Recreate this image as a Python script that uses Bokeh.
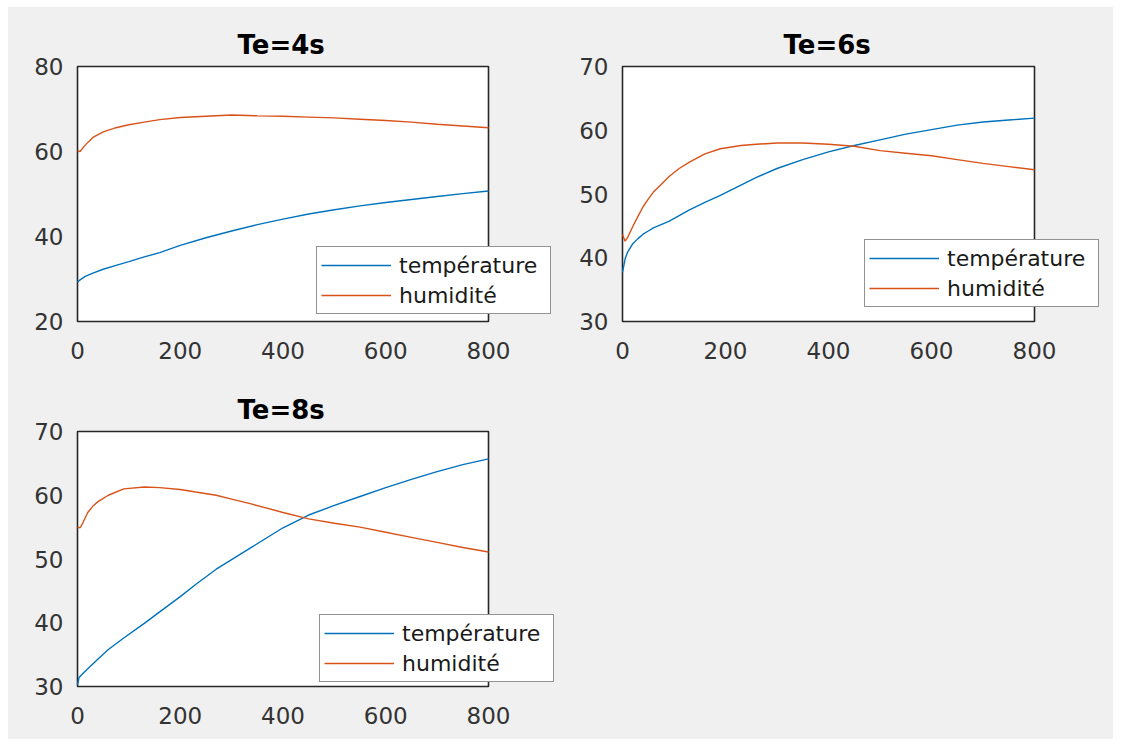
from bokeh.plotting import figure
from bokeh.models import Range1d, FixedTicker, Legend, LegendItem, Spacer
from bokeh.layouts import row, column
from bokeh.embed import file_html
from bokeh.resources import INLINE

BG = "#f0f0f0"
BLUE = "#0072BD"
ORANGE = "#D95319"
FONT = "DejaVu Sans"

# ---- data ----
titles = ["Te=4s", "Te=6s", "Te=8s"]
legend_labels = ["température", "humidité"]
x_lim = (0, 800)
x_ticks = [0, 200, 400, 600, 800]
y_lim_4 = (20, 80)
y_lim_6 = (30, 70)
y_lim_8 = (30, 70)
y_ticks_4 = [20, 40, 60, 80]
y_ticks_6 = [30, 40, 50, 60, 70]
y_ticks_8 = [30, 40, 50, 60, 70]

t4 = [0, 5, 15, 30, 50, 75, 100, 130, 160, 200, 250, 300, 350, 400, 450, 500, 550, 600, 650, 700, 750, 800]
temp4 = [29.3, 29.8, 30.6, 31.4, 32.3, 33.2, 34.1, 35.2, 36.2, 37.9, 39.7, 41.3, 42.8, 44.1, 45.3, 46.3, 47.2, 48.0, 48.7, 49.4, 50.1, 50.7]
hum4 = [60.2, 60.0, 61.5, 63.3, 64.6, 65.6, 66.3, 66.9, 67.5, 68.0, 68.3, 68.6, 68.4, 68.3, 68.1, 67.9, 67.6, 67.3, 66.9, 66.4, 66.0, 65.6]

t6 = [0, 5, 10, 20, 30, 40, 50, 60, 75, 90, 110, 130, 160, 190, 230, 260, 300, 350, 400, 450, 500, 550, 600, 650, 700, 750, 800]
temp6 = [37.7, 39.8, 40.9, 42.2, 43.0, 43.7, 44.2, 44.7, 45.2, 45.7, 46.6, 47.5, 48.7, 49.8, 51.4, 52.6, 54.0, 55.4, 56.6, 57.6, 58.5, 59.4, 60.1, 60.8, 61.3, 61.6, 61.9]
hum6 = [43.7, 42.6, 43.2, 44.9, 46.5, 48.0, 49.2, 50.3, 51.5, 52.7, 54.0, 55.0, 56.3, 57.1, 57.6, 57.8, 58.0, 58.0, 57.8, 57.5, 56.8, 56.4, 56.0, 55.4, 54.8, 54.3, 53.8]

t8_temp = [0, 3, 10, 20, 40, 60, 90, 130, 160, 200, 230, 270, 300, 340, 400, 450, 500, 550, 600, 650, 700, 750, 800]
temp8 = [30.2, 31.4, 32.0, 32.8, 34.3, 35.8, 37.6, 39.9, 41.7, 44.1, 46.0, 48.4, 49.9, 51.9, 54.9, 56.9, 58.4, 59.8, 61.2, 62.5, 63.7, 64.8, 65.7]
t8_hum = [0, 5, 10, 20, 30, 40, 60, 90, 130, 160, 200, 230, 270, 300, 340, 400, 450, 500, 550, 600, 650, 700, 750, 800]
hum8 = [55.0, 54.9, 55.6, 57.3, 58.3, 59.0, 60.0, 61.0, 61.3, 61.2, 60.9, 60.5, 60.0, 59.4, 58.6, 57.3, 56.3, 55.6, 55.0, 54.2, 53.4, 52.6, 51.8, 51.1]


def make(title, tt, temp, th, hum, y_lim, yticks,
         box_w, box_h, bl, bt, fw, fig_w, fig_h, leg_xy, title_off, pad=2):
    # the plotting frame is slightly larger than the axes box so the
    # (MATLAB-style) legend can overhang the box on the right
    xs = (x_lim[1] - x_lim[0]) / box_w
    ys = (y_lim[1] - y_lim[0]) / box_h
    x0 = x_lim[0] - pad * xs
    x1 = x0 + fw * xs
    y0 = y_lim[0] - pad * ys
    y1 = y_lim[1] + pad * ys
    fh = box_h + 2 * pad
    p = figure(
        title=title,
        frame_width=fw, frame_height=fh,
        min_border_left=bl, min_border_right=fig_w - bl - fw,
        min_border_top=bt, min_border_bottom=fig_h - bt - fh,
        x_range=Range1d(x0, x1), y_range=Range1d(y0, y1),
        output_backend="svg", toolbar_location=None,
    )
    p.border_fill_color = BG
    p.background_fill_color = BG
    p.outline_line_color = None
    p.xgrid.visible = False
    p.ygrid.visible = False

    p.title.text_font = FONT
    p.title.text_font_size = "26px"
    p.title.text_font_style = "bold"
    p.title.text_color = "#000000"
    p.title.align = "left"
    p.title.offset = title_off
    p.title.standoff = 10

    for ax, ticks, standoff in ((p.xaxis[0], x_ticks, 18), (p.yaxis[0], yticks, 12)):
        ax.ticker = FixedTicker(ticks=ticks)
        ax.axis_line_color = None
        ax.major_tick_in = 0
        ax.major_tick_out = 0
        ax.minor_tick_in = 0
        ax.minor_tick_out = 0
        ax.major_label_text_font = FONT
        ax.major_label_text_font_size = "23px"
        ax.major_label_text_color = "#333333"
        ax.major_label_standoff = standoff

    # white axes box spanning the axis limits
    p.quad(left=[x_lim[0]], right=[x_lim[1]], bottom=[y_lim[0]], top=[y_lim[1]],
           fill_color="white", line_color="#262626", line_width=1.6)

    r1 = p.line(tt, temp, line_color=BLUE, line_width=1.4)
    r2 = p.line(th, hum, line_color=ORANGE, line_width=1.4)

    leg = Legend(
        items=[LegendItem(label=legend_labels[0], renderers=[r1]),
               LegendItem(label=legend_labels[1], renderers=[r2])],
        location=leg_xy, margin=0, padding=4, spacing=2,
        glyph_width=70, glyph_height=28, label_height=28, label_width=147,
        label_standoff=8,
        label_text_font=FONT, label_text_font_size="22px", label_text_color="#1a1a1a",
        border_line_color="#262626", border_line_width=1.6,
        background_fill_color="white", background_fill_alpha=1.0,
    )
    p.add_layout(leg, "center")
    return p


p1 = make(titles[0], t4, temp4, t4, hum4, y_lim_4, y_ticks_4,
          411, 255, 67, 57, 477, 552, 367, (241, 9), 162)
p2 = make(titles[1], t6, temp6, t6, hum6, y_lim_6, y_ticks_6,
          412, 255, 60, 57, 480, 553, 367, (244, 16), 163)
p3 = make(titles[2], t8_temp, temp8, t8_hum, hum8, y_lim_8, y_ticks_8,
          411, 255, 67, 55, 480, 552, 365, (244, 6), 162)
sp = Spacer(width=553, height=365, styles={"background-color": BG})

layout = column(row(p1, p2), row(p3, sp), margin=(7, 0, 0, 8),
                styles={"background-color": BG})

open("out.html", "w").write(file_html(layout, INLINE))
